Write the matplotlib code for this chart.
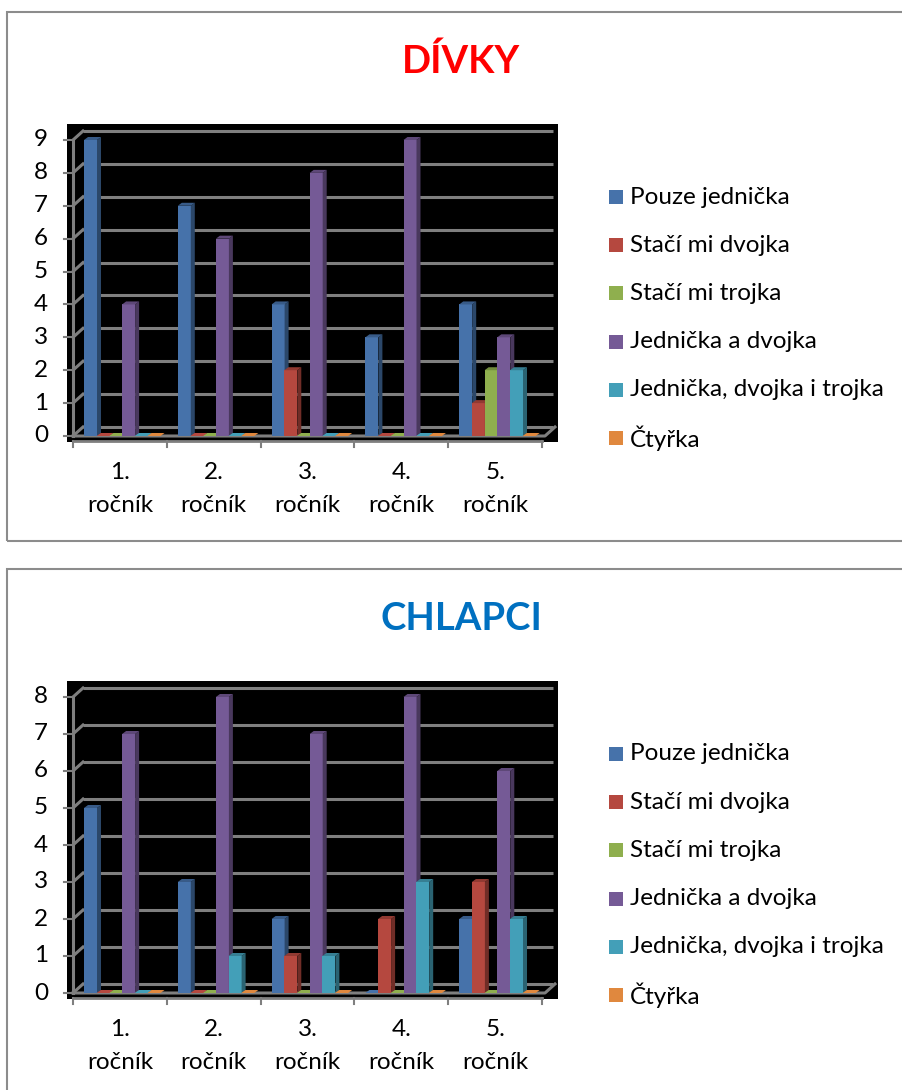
import matplotlib.pyplot as plt
import matplotlib.colors as mcolors
from matplotlib.patches import Rectangle, Polygon

plt.rcParams['font.family'] = ['Lato', 'DejaVu Sans']

# popisky
rocniky = ['1.', '2.', '3.', '4.', '5.']
rocnik_text = 'ročník'
serie = ['Pouze jednička', 'Stačí mi dvojka', 'Stačí mi trojka',
         'Jednička a dvojka', 'Jednička, dvojka i trojka', 'Čtyřka']
barvy = ['#4672AA', '#B5483F', '#8FAF4E', '#755A96', '#439FB8', '#E0883E']

# dívky
divky_jednicka = [9, 7, 4, 3, 4]
divky_dvojka = [0, 0, 2, 0, 1]
divky_trojka = [0, 0, 0, 0, 2]
divky_jedn_dvoj = [4, 6, 8, 9, 3]
divky_jedn_dvoj_troj = [0, 0, 0, 0, 2]
divky_ctyrka = [0, 0, 0, 0, 0]

# chlapci
chlapci_jednicka = [5, 3, 2, 0, 2]
chlapci_dvojka = [0, 0, 1, 2, 3]
chlapci_trojka = [0, 0, 0, 0, 0]
chlapci_jedn_dvoj = [7, 8, 7, 8, 6]
chlapci_jedn_dvoj_troj = [0, 1, 1, 3, 2]
chlapci_ctyrka = [0, 0, 0, 0, 0]

W, H = 902, 1090
SEDA = '#7f7f7f'
PISMO = 17.5


def fx(px):
    return px / W


def fy(py):
    return 1 - py / H


def stin(barva, f):
    r, g, b = mcolors.to_rgb(barva)
    if f < 1:
        return (r * f, g * f, b * f)
    return (r + (1 - r) * (f - 1), g + (1 - g) * (f - 1), b + (1 - b) * (f - 1))


def kresli_panel(fig, off, nadpis, barva_nadpisu, data, vmax):
    # ramecek kolem grafu
    spodek = 541 if off == 0 else 1100
    fig.patches.append(Rectangle((fx(7), fy(spodek)), (905 - 7) / W,
                                 (spodek - 12 - off) / H,
                                 fill=False, ec='#8c8c8c', lw=1.5,
                                 transform=fig.transFigure))
    fig.text(fx(461), fy(73 + off), nadpis, ha='center', va='baseline',
             fontsize=27.5, fontweight='bold', color=barva_nadpisu)

    ppx = 93.8
    ppy = 296 / vmax
    ax = fig.add_axes([fx(67), fy(442 + off), 491 / W, 318 / H])
    ax.set_facecolor('black')
    left = -0.5 - 6 / ppx
    ax.set_xlim(left, left + 491 / ppx)
    ax.set_ylim(-6 / ppy, 312 / ppy)
    ax.set_xticks([])
    ax.set_yticks([])
    for s in ax.spines.values():
        s.set_visible(False)

    wdx, wdy = 10 / ppx, 9 / ppy
    konec = -0.5 + 480 / ppx
    lw = 2.2
    # zadni stena s mrizkou a leva stena
    for v in range(vmax + 1):
        ax.plot([-0.5 + wdx, konec], [v + wdy, v + wdy], color=SEDA, lw=lw,
                solid_capstyle='butt', zorder=1)
        ax.plot([-0.5, -0.5 + wdx], [v, v + wdy], color=SEDA, lw=lw, zorder=1)
        ax.plot([-0.5 - 9 / ppx, -0.5], [v, v], color=SEDA, lw=1.5, clip_on=False)
        ax.text(-0.5 - 25 / ppx, v, str(v), ha='right', va='center',
                fontsize=PISMO, clip_on=False)
    ax.plot([-0.5, -0.5], [0, vmax], color=SEDA, lw=lw, zorder=1)

    # podlaha
    pravy = -0.5 + 472 / ppx
    ax.plot([-0.5, pravy, pravy + wdx], [0, 0, wdy], color=SEDA, lw=lw, zorder=1)
    # osa x
    osa = -5 / ppy
    ax.plot([-0.5, 4.5], [osa, osa], color=SEDA, lw=2, clip_on=False, zorder=1)
    for i in range(6):
        ax.plot([i - 0.5, i - 0.5], [osa, osa - 6 / ppy], color=SEDA, lw=1.5,
                clip_on=False)

    # sloupce
    sirka = 13 / ppx
    rozestup = 12.7 / ppx
    bdx, bdy = 4 / ppx, 3 / ppy
    for i in range(len(rocniky)):
        for s, (hodnoty, barva) in enumerate(zip(data, barvy)):
            v = hodnoty[i]
            x = i - 35.9 / ppx + s * rozestup
            z = 3 + i * 10 + s
            ax.bar(x, v, width=sirka, align='edge', color=barva, lw=0, zorder=z)
            ax.add_patch(Polygon([(x + sirka, 0), (x + sirka + bdx, bdy),
                                  (x + sirka + bdx, v + bdy), (x + sirka, v)],
                                 closed=True, color=stin(barva, 0.62), lw=0, zorder=z))
            ax.add_patch(Polygon([(x, v), (x + bdx, v + bdy),
                                  (x + sirka + bdx, v + bdy), (x + sirka, v)],
                                 closed=True, color=stin(barva, 0.8 if v > 0 else 1.0),
                                 lw=0, zorder=z))
        ax.text(i, -(479 - 436) / ppy, rocniky[i], ha='center', va='baseline',
                fontsize=PISMO, clip_on=False)
        ax.text(i, -(512 - 436) / ppy, rocnik_text, ha='center', va='baseline',
                fontsize=PISMO, clip_on=False)

    # legenda
    for k, (nazev, barva) in enumerate(zip(serie, barvy)):
        yc = 197 + 48.2 * k + off
        fig.patches.append(Rectangle((fx(609), fy(yc + 7)), 14 / W, 14 / H,
                                     color=barva, lw=0, transform=fig.transFigure))
        fig.text(fx(630), fy(yc), nazev, ha='left', va='center', fontsize=PISMO)


fig = plt.figure(figsize=(W / 100, H / 100), dpi=100)

kresli_panel(fig, 0, 'DÍVKY', '#FF0000',
             [divky_jednicka, divky_dvojka, divky_trojka,
              divky_jedn_dvoj, divky_jedn_dvoj_troj, divky_ctyrka], 9)
kresli_panel(fig, 557, 'CHLAPCI', '#0070C0',
             [chlapci_jednicka, chlapci_dvojka, chlapci_trojka,
              chlapci_jedn_dvoj, chlapci_jedn_dvoj_troj, chlapci_ctyrka], 8)

fig.savefig('out.png', dpi=100)
